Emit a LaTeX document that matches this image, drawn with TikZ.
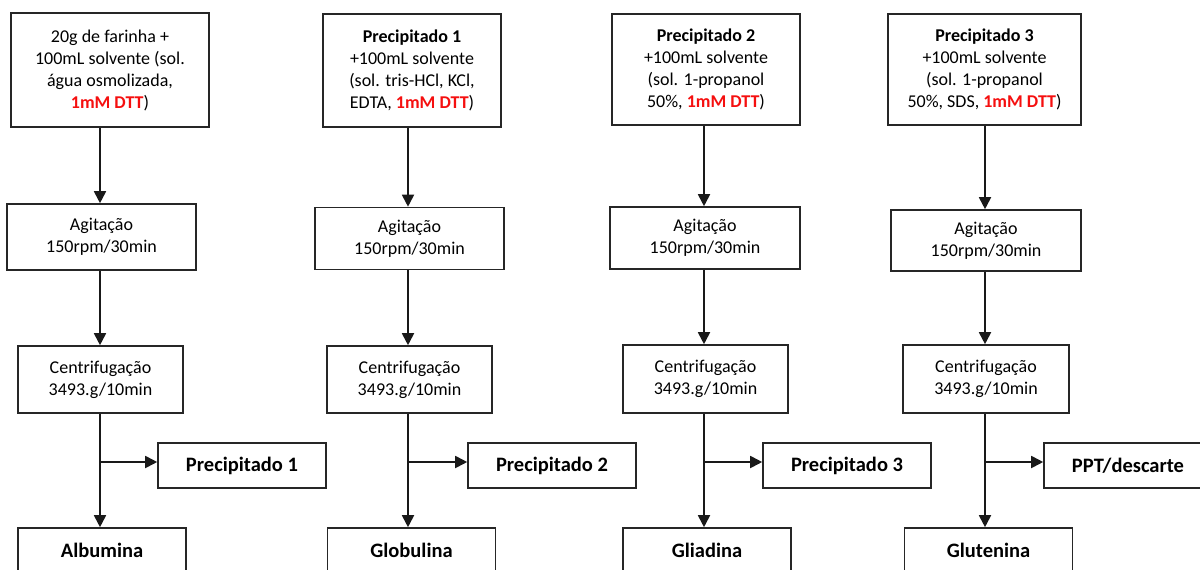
\documentclass[tikz,border=0pt]{standalone}
\usepackage{fontspec}
\setmainfont{Carlito}
\usetikzlibrary{arrows.meta}
\definecolor{dttred}{RGB}{245,15,15}
\newcommand{\dtt}{\textcolor{dttred}{\bfseries 1mM DTT}}
\begin{document}
\begin{tikzpicture}[x=1pt,y=-1pt,
  box/.style={draw=black!85, line width=1.6pt, align=center, inner sep=0pt,
              font=\fontsize{18}{22}\selectfont},
  res/.style={box, minimum width=168pt, minimum height=45pt,
              font=\fontsize{20.5}{24}\selectfont\bfseries},
  flow/.style={line width=1.8pt, draw=black!90, -{Triangle[width=12pt,length=12pt]}},
  link/.style={line width=1.8pt, draw=black!90},
]
\useasboundingbox (0,0) rectangle (1200,570);
\clip (0,0) rectangle (1200,570);

% ---------- column 1: albumina ----------
\coordinate (c1) at (100,0);
\node[box, minimum width=198pt, minimum height=114pt] (t1) at (110,70)
  {20g de farinha +\\100mL solvente (sol.\\água osmolizada,\\\dtt)};
\node[box, minimum width=189pt, minimum height=66pt] (ag1) at (101.5,237)
  {Agitação\\150rpm/30min};
\node[box, minimum width=165pt, minimum height=67pt] (ce1) at (100.5,379.5)
  {Centrifugação\\3493.g/10min};
\node[res] (p1) at (242,465.5) {Precipitado 1};
\node[res] (r1) at (102,550.5) {Albumina};
\coordinate (b1) at (100,462);

% ---------- column 2: globulina ----------
\coordinate (c2) at (408,0);
\node[box, minimum width=178pt, minimum height=113pt] (t2) at (412,70.5)
  {\textbf{Precipitado 1}\\+100mL solvente\\(sol. tris-HCl, KCl,\\EDTA, \dtt)};
\node[box, minimum width=189pt, minimum height=62pt] (ag2) at (409.5,238.5)
  {Agitação\\150rpm/30min};
\node[box, minimum width=165pt, minimum height=67pt] (ce2) at (409.5,379.5)
  {Centrifugação\\3493.g/10min};
\node[res] (p2) at (552,465.5) {Precipitado 2};
\node[res] (r2) at (411.5,550.5) {Globulina};
\coordinate (b2) at (408,462);

% ---------- column 3: gliadina ----------
\coordinate (c3) at (704,0);
\node[box, minimum width=188pt, minimum height=111pt] (t3) at (706,69.5)
  {\textbf{Precipitado 2}\\+100mL solvente\\(sol. 1-propanol\\50\%, \dtt)};
\node[box, minimum width=190pt, minimum height=62pt] (ag3) at (705,238)
  {Agitação\\150rpm/30min};
\node[box, minimum width=165pt, minimum height=68pt] (ce3) at (705.5,379)
  {Centrifugação\\3493.g/10min};
\node[res] (p3) at (847,465.5) {Precipitado 3};
\node[res] (r3) at (707,550.5) {Gliadina};
\coordinate (b3) at (704,462);

% ---------- column 4: glutenina ----------
\coordinate (c4) at (985,0);
\node[box, minimum width=193pt, minimum height=111pt] (t4) at (984.5,69.5)
  {\textbf{Precipitado 3}\\+100mL solvente\\(sol. 1-propanol\\50\%, SDS, \dtt)};
\node[box, minimum width=190pt, minimum height=61pt] (ag4) at (986,240.5)
  {Agitação\\150rpm/30min};
\node[box, minimum width=166pt, minimum height=68pt] (ce4) at (986,379)
  {Centrifugação\\3493.g/10min};
\node[res] (p4) at (1128,465.5) {PPT/descarte};
\node[res] (r4) at (988.5,550.5) {Glutenina};
\coordinate (b4) at (985,462);

% ---------- connectors ----------
\foreach \i in {1,2,3,4}{
  \draw[flow] (t\i.south -| c\i) -- (ag\i.north -| c\i);
  \draw[flow] (ag\i.south -| c\i) -- (ce\i.north -| c\i);
  \draw[flow] (ce\i.south -| c\i) -- (r\i.north -| c\i);
  \draw[flow] (b\i) -- (b\i -| p\i.west);
}
\end{tikzpicture}
\end{document}
